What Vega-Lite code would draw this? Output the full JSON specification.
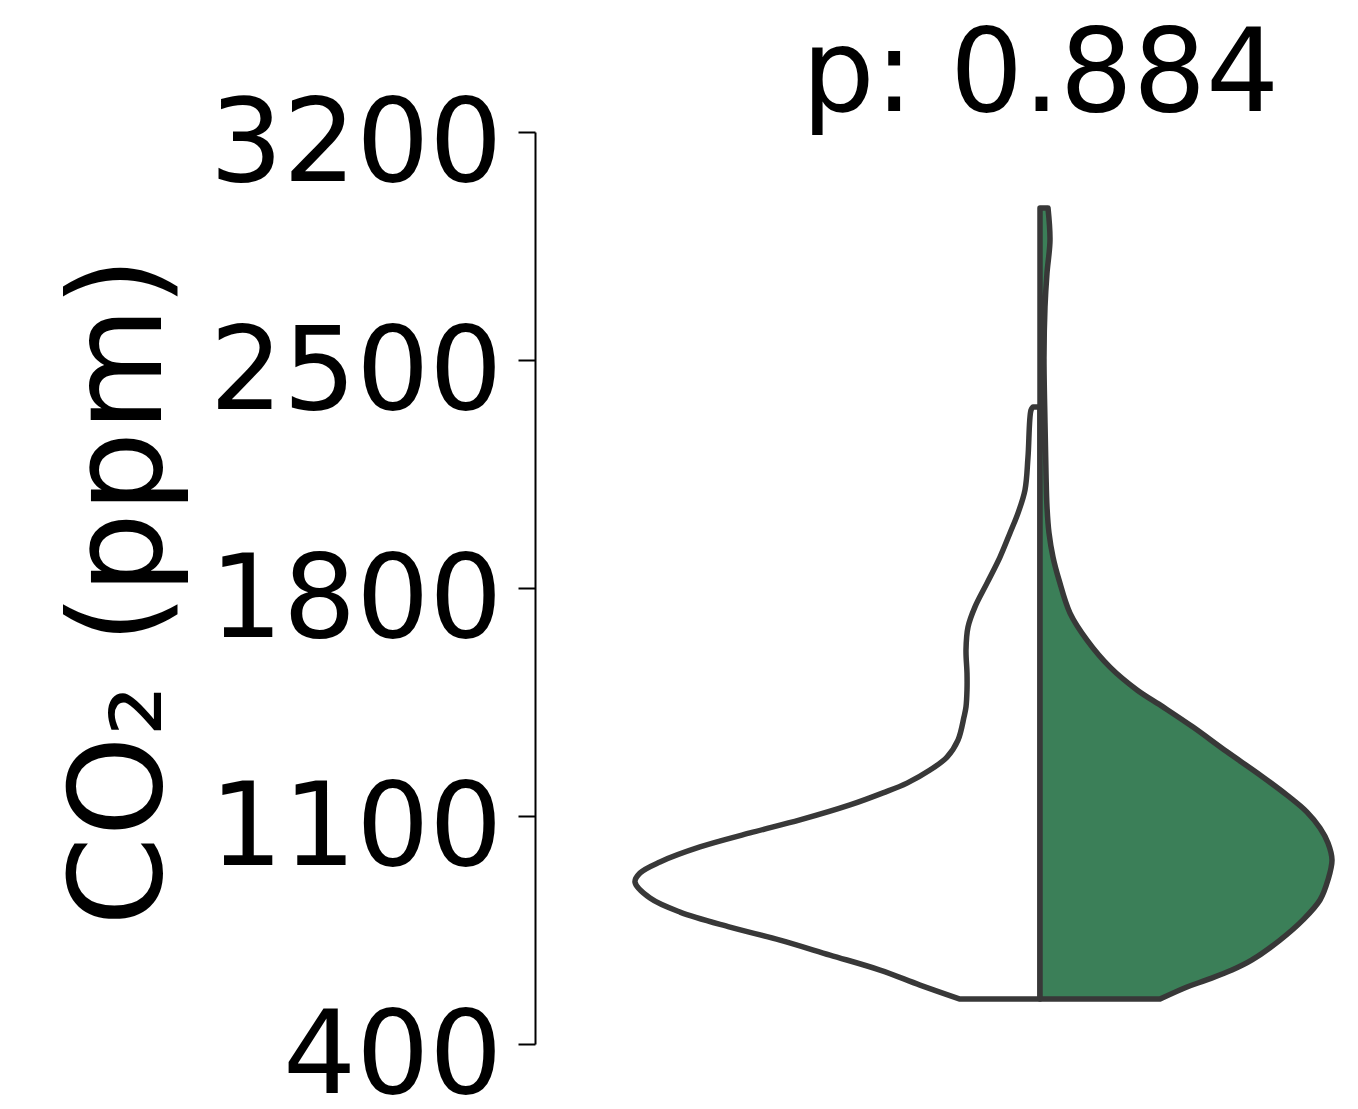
{
  "$schema": "https://vega.github.io/schema/vega-lite/v6.json",
  "width": 823,
  "height": 912,
  "autosize": {"type": "none"},
  "padding": {"left": 535, "top": 132, "right": 0, "bottom": 65},
  "background": "white",
  "title": {
    "text": "p: 0.884",
    "font": "DejaVu Sans",
    "fontSize": 115,
    "fontWeight": "normal",
    "color": "black",
    "anchor": "middle",
    "baseline": "alphabetic",
    "dx": 94,
    "dy": 148,
    "offset": 10
  },
  "data": {
    "values": [
      {"g": "A", "co2": 538, "w": -0.2},
      {"g": "A", "co2": 581, "w": -0.3},
      {"g": "A", "co2": 627, "w": -0.4},
      {"g": "A", "co2": 673, "w": -0.525},
      {"g": "A", "co2": 719, "w": -0.65},
      {"g": "A", "co2": 759, "w": -0.775},
      {"g": "A", "co2": 805, "w": -0.9},
      {"g": "A", "co2": 848, "w": -0.975},
      {"g": "A", "co2": 897, "w": -1.0125},
      {"g": "A", "co2": 925, "w": -1.0},
      {"g": "A", "co2": 959, "w": -0.95},
      {"g": "A", "co2": 1005, "w": -0.85},
      {"g": "A", "co2": 1048, "w": -0.725},
      {"g": "A", "co2": 1088, "w": -0.6},
      {"g": "A", "co2": 1134, "w": -0.475},
      {"g": "A", "co2": 1171, "w": -0.3925},
      {"g": "A", "co2": 1201, "w": -0.3325},
      {"g": "A", "co2": 1241, "w": -0.275},
      {"g": "A", "co2": 1281, "w": -0.2325},
      {"g": "A", "co2": 1333, "w": -0.205},
      {"g": "A", "co2": 1404, "w": -0.19},
      {"g": "A", "co2": 1435, "w": -0.185},
      {"g": "A", "co2": 1487, "w": -0.1825},
      {"g": "A", "co2": 1539, "w": -0.1825},
      {"g": "A", "co2": 1610, "w": -0.185},
      {"g": "A", "co2": 1680, "w": -0.18},
      {"g": "A", "co2": 1742, "w": -0.1625},
      {"g": "A", "co2": 1815, "w": -0.1325},
      {"g": "A", "co2": 1895, "w": -0.1},
      {"g": "A", "co2": 1969, "w": -0.075},
      {"g": "A", "co2": 2030, "w": -0.055},
      {"g": "A", "co2": 2101, "w": -0.0375},
      {"g": "A", "co2": 2202, "w": -0.03},
      {"g": "A", "co2": 2346, "w": -0.0225},
      {"g": "A", "co2": 2356, "w": -0.0175},
      {"g": "B", "co2": 538, "w": 0.3},
      {"g": "B", "co2": 575, "w": 0.3675},
      {"g": "B", "co2": 596, "w": 0.415},
      {"g": "B", "co2": 627, "w": 0.48},
      {"g": "B", "co2": 658, "w": 0.53},
      {"g": "B", "co2": 719, "w": 0.6},
      {"g": "B", "co2": 781, "w": 0.6575},
      {"g": "B", "co2": 842, "w": 0.7},
      {"g": "B", "co2": 904, "w": 0.72},
      {"g": "B", "co2": 965, "w": 0.73},
      {"g": "B", "co2": 1017, "w": 0.72},
      {"g": "B", "co2": 1063, "w": 0.7},
      {"g": "B", "co2": 1112, "w": 0.6675},
      {"g": "B", "co2": 1164, "w": 0.6175},
      {"g": "B", "co2": 1226, "w": 0.55},
      {"g": "B", "co2": 1297, "w": 0.4675},
      {"g": "B", "co2": 1373, "w": 0.3825},
      {"g": "B", "co2": 1435, "w": 0.3075},
      {"g": "B", "co2": 1487, "w": 0.2425},
      {"g": "B", "co2": 1557, "w": 0.175},
      {"g": "B", "co2": 1640, "w": 0.1175},
      {"g": "B", "co2": 1723, "w": 0.075},
      {"g": "B", "co2": 1825, "w": 0.0475},
      {"g": "B", "co2": 1895, "w": 0.0325},
      {"g": "B", "co2": 1969, "w": 0.0225},
      {"g": "B", "co2": 2049, "w": 0.0175},
      {"g": "B", "co2": 2153, "w": 0.015},
      {"g": "B", "co2": 2307, "w": 0.0125},
      {"g": "B", "co2": 2509, "w": 0.01},
      {"g": "B", "co2": 2663, "w": 0.0125},
      {"g": "B", "co2": 2767, "w": 0.0175},
      {"g": "B", "co2": 2868, "w": 0.025},
      {"g": "B", "co2": 2967, "w": 0.02}
    ]
  },
  "encoding": {
    "y": {
      "field": "co2",
      "type": "quantitative",
      "scale": {"domain": [400, 3200], "nice": false, "zero": false},
      "axis": {
        "title": "CO₂ (ppm)",
        "values": [400, 1100, 1800, 2500, 3200],
        "format": "d",
        "grid": false,
        "labelFont": "DejaVu Sans",
        "labelFontSize": 115,
        "labelColor": "black",
        "labelPadding": 16,
        "labelLimit": 0,
        "labelOffset": 13,
        "labelFlush": false,
        "labelOverlap": false,
        "tickSize": 17,
        "tickWidth": 2,
        "tickColor": "black",
        "domainColor": "black",
        "domainWidth": 2,
        "titleFont": "DejaVu Sans",
        "titleFontSize": 128,
        "titleFontWeight": "normal",
        "titleColor": "black",
        "titleAngle": 270,
        "titleAlign": "center",
        "titleBaseline": "alphabetic",
        "titleX": -375,
        "titleY": 459
      }
    },
    "x": {
      "field": "w",
      "type": "quantitative",
      "scale": {"domain": [-1.2625, 0.795], "nice": false, "zero": false},
      "axis": null
    },
    "x2": {"datum": 0}
  },
  "layer": [
    {
      "transform": [{"filter": "datum.g === 'A'"}],
      "mark": {"type": "area", "orient": "horizontal", "interpolate": "catmull-rom", "fill": "#ffffff", "stroke": "#383838", "strokeWidth": 5.5, "strokeJoin": "round", "fillOpacity": 1}
    },
    {
      "transform": [{"filter": "datum.g === 'B'"}],
      "mark": {"type": "area", "orient": "horizontal", "interpolate": "catmull-rom", "fill": "#3b7f58", "stroke": "#383838", "strokeWidth": 5.5, "strokeJoin": "round", "fillOpacity": 1}
    }
  ],
  "config": {"view": {"stroke": null}}
}
